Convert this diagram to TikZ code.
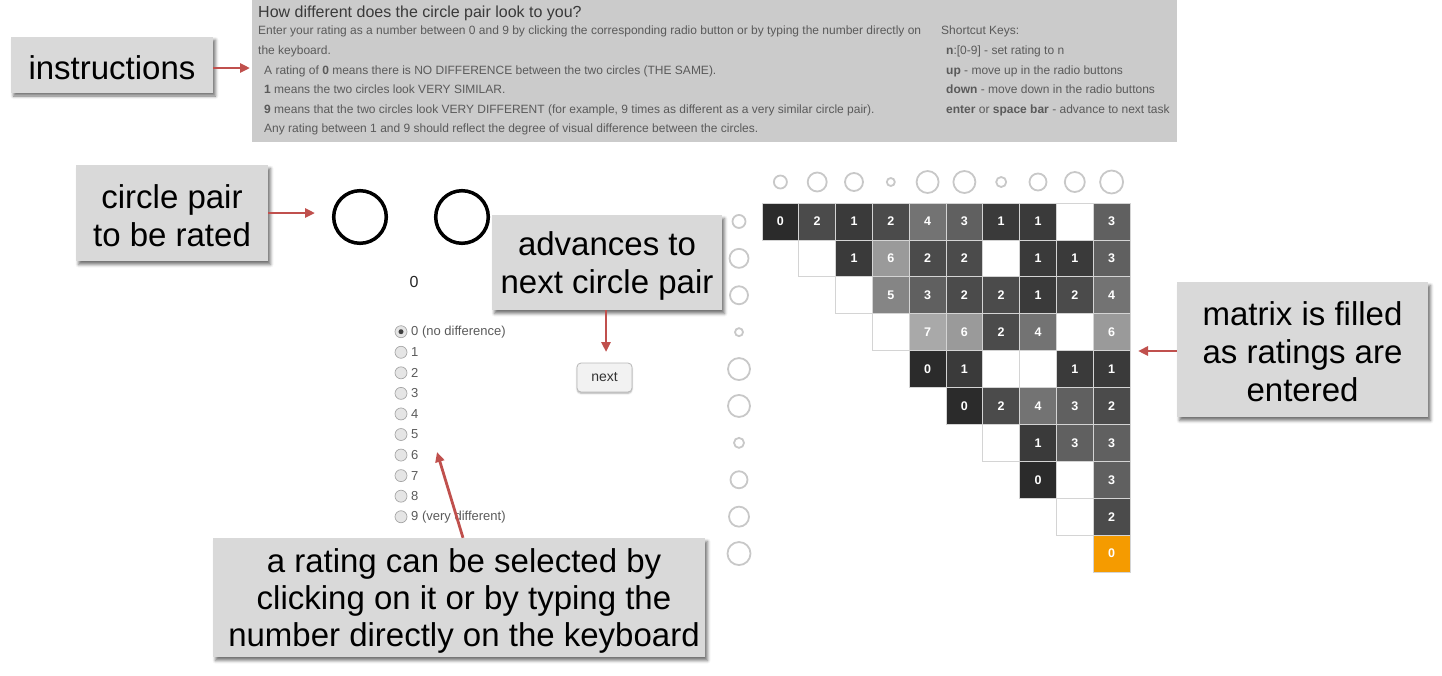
\documentclass[tikz,border=0pt]{standalone}
\usepackage{fontspec}
\setmainfont{Liberation Sans}
\usetikzlibrary{arrows.meta,shadows.blur}
\definecolor{calloutbg}{HTML}{D9D9D9}
\definecolor{instrbg}{HTML}{CBCBCB}
\definecolor{arrowred}{HTML}{C0504D}
\definecolor{txtgray}{HTML}{5A5A5A}
\definecolor{titlegray}{HTML}{3A3A3A}
\definecolor{circgray}{HTML}{C8C8C8}
\definecolor{cellline}{HTML}{D4D4D4}
\definecolor{orangecell}{HTML}{F59B00}
\definecolor{m0}{HTML}{2B2B2B}
\definecolor{m1}{HTML}{3A3A3A}
\definecolor{m2}{HTML}{4B4B4B}
\definecolor{m3}{HTML}{606060}
\definecolor{m4}{HTML}{737373}
\definecolor{m5}{HTML}{858585}
\definecolor{m6}{HTML}{9A9A9A}
\definecolor{m7}{HTML}{A9A9A9}
\begin{document}
\begin{tikzpicture}[x=1pt,y=-1pt,
  callout/.style={fill=calloutbg, inner sep=0pt,
    blur shadow={shadow xshift=2.5pt, shadow yshift=-3.5pt, shadow blur radius=3pt, shadow opacity=55}},
  callouttext/.style={inner sep=0pt, align=center, font=\fontsize{33}{38}\selectfont},
  callarrow/.style={draw=arrowred, line width=2.8pt, -{Triangle[length=10pt,width=9pt]}},
  smalltxt/.style={anchor=base west, inner sep=0pt, text=txtgray, font=\fontsize{12}{14}\selectfont},
  titletxt/.style={anchor=base west, inner sep=0pt, text=titlegray, font=\fontsize{16}{18}\selectfont},
  bigcirc/.style={circle, draw=black, line width=3.5pt, minimum size=52.6pt, inner sep=0pt},
  mcirc/.style={circle, draw=circgray, line width=1.8pt, inner sep=0pt},
  cell/.style={rectangle, draw=cellline, line width=0.8pt, minimum width=36.8pt, minimum height=36.9pt,
    inner sep=0pt, text=white, font=\fontsize{12.5}{14}\selectfont\bfseries},
  radio/.style={circle, draw=black!35, fill=black!10, line width=0.7pt, minimum size=12pt, inner sep=0pt},
  radiolab/.style={anchor=west, inner sep=0pt, text=txtgray, font=\fontsize{13}{15}\selectfont},
  button/.style={rectangle, rounded corners=4pt, draw=black!28, fill=black!5, line width=0.8pt,
    minimum width=55pt, minimum height=29pt, inner sep=0pt, text=black!80, font=\fontsize{14}{16}\selectfont,
    blur shadow={shadow xshift=0pt, shadow yshift=-1.5pt, shadow blur radius=1.5pt, shadow opacity=30}}
]
\useasboundingbox (0,0) rectangle (1442,675);

% instructions panel
\node[fill=instrbg, minimum width=925pt, minimum height=142pt, inner sep=0pt, anchor=north west] (instr) at (252,0) {};
\node[titletxt] (ttl) at (258,17.5) {How different does the circle pair look to you?};
\node[smalltxt] (l1) at (258,34.5) {Enter your rating as a number between 0 and 9 by clicking the corresponding radio button or by typing the number directly on};
\node[smalltxt] (l2) at (258,54) {the keyboard.};
\node[smalltxt] (l3) at (264,74) {A rating of \textbf{0} means there is NO DIFFERENCE between the two circles (THE SAME).};
\node[smalltxt] (l4) at (264,93.5) {\textbf{1} means the two circles look VERY SIMILAR.};
\node[smalltxt] (l5) at (264,113) {\textbf{9} means that the two circles look VERY DIFFERENT (for example, 9 times as different as a very similar circle pair).};
\node[smalltxt] (l6) at (264,132.5) {Any rating between 1 and 9 should reflect the degree of visual difference between the circles.};
\node[smalltxt] (k0) at (941,34.5) {Shortcut Keys:};
\node[smalltxt] (k1) at (946,54) {\textbf{n}:[0-9] - set rating to n};
\node[smalltxt] (k2) at (946,74) {\textbf{up} - move up in the radio buttons};
\node[smalltxt] (k3) at (946,93.5) {\textbf{down} - move down in the radio buttons};
\node[smalltxt] (k4) at (946,113) {\textbf{enter} or \textbf{space bar} - advance to next task};

% circle pair
\node[bigcirc] (c1) at (360,217) {};
\node[bigcirc] (c2) at (462,217) {};
\node[inner sep=0pt, font=\fontsize{16}{18}\selectfont, text=black!85] (cur) at (414,282) {0};

% radio buttons
\foreach \k/\lab in {0/0 (no difference),1/1,2/2,3/3,4/4,5/5,6/6,7/7,8/8,9/9 (very different)}{
  \node[radio] (radio\k) at (401,{331.7+20.56*\k}) {};
  \node[radiolab] (rlab\k) at (411,{331.7+20.56*\k}) {\lab};
}
\fill[black!75] (radio0) circle (2.5pt);

% next button
\node[button] (nextbtn) at (604.5,377.5) {next};

% matrix circles
\foreach \j/\r in {0/6.5,1/9.5,2/9,3/4,4/11,5/11,6/5,7/8.5,8/10,9/11.5}{
  \node[mcirc, minimum size={2*\r*1pt}] (col\j) at ({780.4+36.8*\j},182) {};
  \node[mcirc, minimum size={2*\r*1pt}] (row\j) at (739,{221.45+36.9*\j}) {};
}

% blank cells
\foreach \i/\j in {0/8,1/1,1/6,2/2,3/3,3/8,4/6,4/7,6/6,7/8,8/8}{
  \node[cell, fill=white] (cell\i-\j) at ({780.4+36.8*\j},{221.45+36.9*\i}) {};
}
% filled cells
\foreach \i/\j/\v in {0/0/0,0/1/2,0/2/1,0/3/2,0/4/4,0/5/3,0/6/1,0/7/1,0/9/3,
  1/2/1,1/3/6,1/4/2,1/5/2,1/7/1,1/8/1,1/9/3,
  2/3/5,2/4/3,2/5/2,2/6/2,2/7/1,2/8/2,2/9/4,
  3/4/7,3/5/6,3/6/2,3/7/4,3/9/6,
  4/4/0,4/5/1,4/8/1,4/9/1,
  5/5/0,5/6/2,5/7/4,5/8/3,5/9/2,
  6/7/1,6/8/3,6/9/3,
  7/7/0,7/9/3,
  8/9/2}{
  \node[cell, fill=m\v] (cell\i-\j) at ({780.4+36.8*\j},{221.45+36.9*\i}) {\v};
}
\node[cell, fill=orangecell] (cell9-9) at ({780.4+36.8*9},{221.45+36.9*9}) {0};

% callouts
\node[callout, minimum width=202pt, minimum height=56pt] (cinstr) at (112,64.5) {};
\node[callouttext] (tinstr) at ([yshift=-3pt]cinstr.center) {instructions};
\node[callout, minimum width=192pt, minimum height=96pt] (cpair) at (172,213) {};
\node[callouttext] (tpair) at ([yshift=-3pt]cpair.center) {circle pair\\to be rated};
\node[callout, minimum width=230pt, minimum height=95pt] (cadv) at (607,262.5) {};
\node[callouttext] (tadv) at ([yshift=-3.5pt]cadv.center) {advances to\\next circle pair};
\node[callout, minimum width=492pt, minimum height=119pt] (crating) at (459,597.5) {};
\node[callouttext, font=\fontsize{33}{37}\selectfont] (trating) at ([xshift=5pt,yshift=-3pt]crating.center) {a rating can be selected by\\clicking on it or by typing the\\number directly on the keyboard};
\node[callout, minimum width=251pt, minimum height=135pt] (cmat) at (1302.5,349.5) {};
\node[callouttext] (tmat) at ([yshift=-2pt]cmat.center) {matrix is filled\\as ratings are\\entered};

% arrows
\coordinate (ainstr) at (250,68);
\coordinate (apair) at (315,213);
\coordinate (aadv) at (606,352);
\coordinate (arstart) at (463,540);
\coordinate (arend) at (437,452);
\coordinate (amat) at (1138,351);
\draw[callarrow] (cinstr.east |- ainstr) -- (ainstr);
\draw[callarrow] (cpair.east |- apair) -- (apair);
\draw[callarrow] (cadv.south -| aadv) -- (aadv);
\draw[callarrow] (crating.north -| arstart) -- (arend);
\draw[callarrow] (cmat.west |- amat) -- (amat);
\end{tikzpicture}
\end{document}
